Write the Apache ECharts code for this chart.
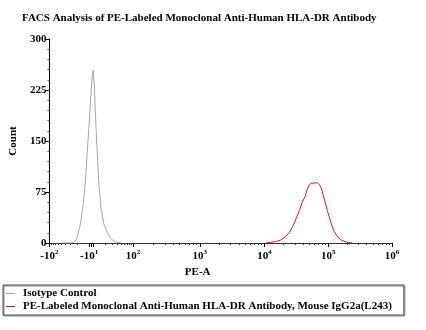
<!DOCTYPE html>
<html><head><meta charset="utf-8">
<script src="https://cdn.jsdelivr.net/npm/echarts@6/dist/echarts.min.js"></script>
<style>html,body{margin:0;padding:0;background:#fff}#c{width:426px;height:330px}</style>
</head><body><div id="c"></div>
<script>
// x values are display channels (0 = -10^2, 1000 = 10^6 on the biexponential PE-A scale)
var isotypeX = [35, 64, 70, 78, 87, 93, 99, 105, 110, 116, 122, 125, 128, 131, 134, 137, 140, 145, 151, 160, 172, 180, 192, 201, 209];
var isotypeY = [0, 0, 1, 4, 20, 35, 58, 90, 130, 175, 225, 245, 254, 232, 195, 160, 128, 82, 50, 26, 12, 6, 2, 1, 0];
var hladrX = [631, 645, 660, 674, 689, 701, 712, 721, 730, 738, 747, 753, 759, 765, 770, 776, 782, 788, 794, 799, 805, 811, 817, 823, 831, 840, 849, 858, 869, 884];
var hladrY = [0, 1, 2, 4, 9, 16, 26, 37, 48, 60, 69, 80, 86, 88, 89, 88, 89, 86, 80, 71, 60, 48, 38, 28, 17, 10, 5, 3, 1, 0];
var xTickValues = [0, 116, 244, 439, 628, 814, 1000];
var xTickLabels = ['{b|-10}{s|2}', '{b|-10}{s|1}', '{b|10}{s|2}', '{b|10}{s|3}', '{b|10}{s|4}', '{b|10}{s|5}', '{b|10}{s|6}'];
var xExtraTicks = [122, 128];
var decadeStarts = [244, 439, 628, 814];
var decadeEnds = [439, 628, 814, 1000];
var seriesNames = ['Isotype Control', 'PE-Labeled Monoclonal Anti-Human HLA-DR Antibody, Mouse IgG2a(L243)'];
var titleText = 'FACS Analysis of PE-Labeled Monoclonal Anti-Human HLA-DR Antibody';

function pairs(xs, ys) { return xs.map(function (x, i) { return [x, ys[i]]; }); }

// minor tick positions (log spacing within each decade)
var minor = [];
for (var d = 0; d < decadeStarts.length; d++) {
  for (var k = 2; k <= 9; k++) minor.push(decadeStarts[d] + Math.log10(k) * (decadeEnds[d] - decadeStarts[d]));
}
for (var k2 = 2; k2 <= 9; k2++) {
  minor.push(116 - Math.log10(k2) * 116);
  minor.push(128 + Math.log10(k2) * 116);
}

var serif = 'Liberation Serif, Times New Roman, serif';
var chart = echarts.init(document.getElementById('c'));
chart.setOption({
  animation: false,
  title: { text: titleText, left: 17, top: 8, textStyle: { fontFamily: serif, fontWeight: 'bold', fontSize: 11, color: '#000' } },
  grid: { left: 48, right: 34, top: 39, bottom: 87 },
  legend: {
    orient: 'vertical', left: 3, top: 285, itemGap: 2, itemWidth: 9, itemHeight: 1, icon: 'rect',
    padding: [3, 12, 3, 3], borderColor: '#444', borderWidth: 1, borderRadius: 0,
    shadowColor: '#888', shadowOffsetX: 1, shadowOffsetY: 1, shadowBlur: 0,
    textStyle: { fontFamily: serif, fontWeight: 'bold', fontSize: 11, color: '#000', padding: [0, 0, 0, 3] },
    data: seriesNames
  },
  xAxis: [{
    type: 'value', min: 0, max: 1000,
    name: 'PE-A', nameLocation: 'middle', nameGap: 24,
    nameTextStyle: { fontFamily: serif, fontWeight: 'bold', fontSize: 11, color: '#000', padding: [0, 46, 0, 0] },
    axisLine: { show: true, lineStyle: { color: '#333', width: 1 } },
    axisTick: { show: true, length: 4, customValues: xTickValues.concat(xExtraTicks), lineStyle: { color: '#000' } },
    axisLabel: {
      customValues: xTickValues, margin: 6,
      formatter: function (v) { var i = xTickValues.indexOf(v); return i >= 0 ? xTickLabels[i] : ''; },
      rich: {
        b: { fontFamily: serif, fontWeight: 'bold', fontSize: 11, color: '#000' },
        s: { fontFamily: serif, fontWeight: 'bold', fontSize: 7, color: '#000', padding: [0, 0, 7, 0] }
      }
    },
    splitLine: { show: false }
  }, {
    type: 'value', min: 0, max: 1000, position: 'bottom',
    axisLine: { show: false },
    axisTick: { show: true, length: 2, customValues: minor, lineStyle: { color: '#333' } },
    axisLabel: { show: false },
    splitLine: { show: false }
  }],
  yAxis: {
    type: 'value', min: 0, max: 300, interval: 75,
    name: 'Count', nameLocation: 'middle', nameGap: 25,
    nameTextStyle: { fontFamily: serif, fontWeight: 'bold', fontSize: 11, color: '#000' },
    axisLine: { show: true, lineStyle: { color: '#000' } },
    axisTick: { show: true, length: 4, lineStyle: { color: '#000' } },
    minorTick: { show: true, splitNumber: 5, length: 2, lineStyle: { color: '#555' } },
    axisLabel: { fontFamily: serif, fontWeight: 'bold', fontSize: 11, color: '#000', margin: 3 },
    splitLine: { show: false }
  },
  series: [
    { name: seriesNames[0], type: 'line', showSymbol: false, symbol: 'none', data: pairs(isotypeX, isotypeY), lineStyle: { color: '#a6a6a6', width: 1 }, itemStyle: { color: '#a6a6a6' } },
    { name: seriesNames[1], type: 'line', showSymbol: false, symbol: 'none', data: pairs(hladrX, hladrY), lineStyle: { color: '#e3101e', width: 1 }, itemStyle: { color: '#e3101e' } }
  ]
});
</script></body></html>
